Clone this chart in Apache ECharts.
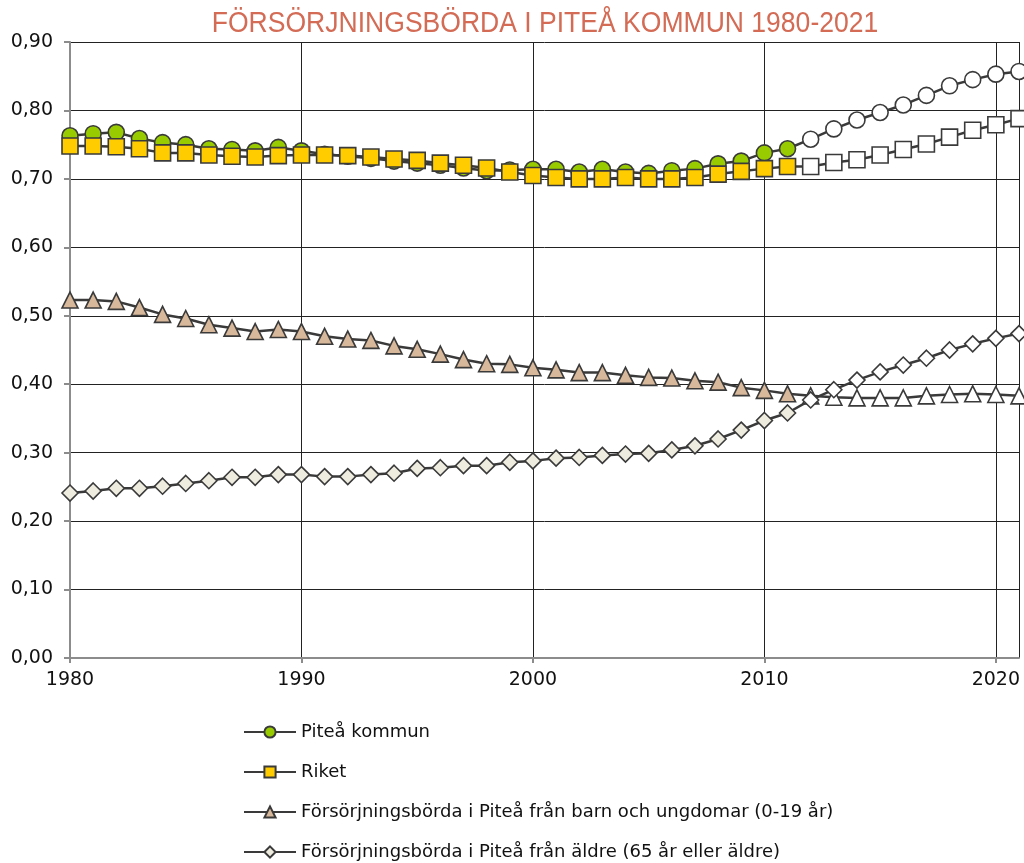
<!DOCTYPE html>
<html>
<head>
<meta charset="utf-8">
<script src="https://cdn.jsdelivr.net/npm/echarts@6/dist/echarts.min.js"></script>
<style>
  html, body { margin: 0; padding: 0; background: #fff; }
  #chart { width: 1024px; height: 863px; }
</style>
</head>
<body>
<div id="chart"></div>
<script>
// år 1980-2021, prognos från 2012
const years = [
  1980, 1981, 1982, 1983, 1984, 1985, 1986, 1987, 1988, 1989,
  1990, 1991, 1992, 1993, 1994, 1995, 1996, 1997, 1998, 1999,
  2000, 2001, 2002, 2003, 2004, 2005, 2006, 2007, 2008, 2009,
  2010, 2011, 2012, 2013, 2014, 2015, 2016, 2017, 2018, 2019,
  2020, 2021
];
const firstForecastYear = 2012;

const pitea = [
  0.763, 0.766, 0.768, 0.759, 0.753, 0.750, 0.744, 0.743, 0.741, 0.746,
  0.741, 0.736, 0.733, 0.730, 0.726, 0.723, 0.720, 0.716, 0.712, 0.713,
  0.714, 0.714, 0.710, 0.714, 0.710, 0.708, 0.712, 0.715, 0.722, 0.726,
  0.738, 0.744, 0.758, 0.773, 0.786, 0.797, 0.808, 0.822, 0.836, 0.845,
  0.853, 0.857
];
const riket = [
  0.748, 0.748, 0.747, 0.744, 0.738, 0.738, 0.735, 0.733, 0.732, 0.734,
  0.735, 0.735, 0.734, 0.732, 0.729, 0.727, 0.723, 0.720, 0.716, 0.710,
  0.705, 0.702, 0.700, 0.700, 0.702, 0.700, 0.700, 0.702, 0.707, 0.711,
  0.715, 0.718, 0.718, 0.724, 0.728, 0.735, 0.743, 0.751, 0.761, 0.771,
  0.779, 0.788
];
const barnUngdomar = [
  0.523, 0.523, 0.521, 0.512, 0.502, 0.496, 0.487, 0.482, 0.477, 0.480,
  0.477, 0.470, 0.466, 0.464, 0.456, 0.451, 0.444, 0.436, 0.430, 0.429,
  0.424, 0.421, 0.417, 0.417, 0.413, 0.410, 0.409, 0.405, 0.403, 0.395,
  0.391, 0.386, 0.383, 0.381, 0.380, 0.380, 0.380, 0.383, 0.385, 0.386,
  0.385, 0.383
];
const aldre = [
  0.241, 0.244, 0.248, 0.248, 0.251, 0.255, 0.259, 0.264, 0.264, 0.268,
  0.268, 0.265, 0.265, 0.268, 0.270, 0.277, 0.278, 0.281, 0.281, 0.286,
  0.288, 0.292, 0.293, 0.296, 0.298, 0.299, 0.304, 0.310, 0.320, 0.333,
  0.347, 0.358, 0.377, 0.392, 0.406, 0.418, 0.428, 0.438, 0.450, 0.459,
  0.467, 0.474
];

const seriesNames = [
  'Piteå kommun',
  'Riket',
  'Försörjningsbörda i Piteå från barn och ungdomar (0-19 år)',
  'Försörjningsbörda i Piteå från äldre (65 år eller äldre)'
];

const font = '"DejaVu Sans", sans-serif';
const lineColor = '#3a3a3a';

// prognosår ritas med vita markörer
function toPoints(values) {
  return values.map((v, i) => {
    const point = { value: [years[i], v] };
    if (years[i] >= firstForecastYear) {
      point.itemStyle = { color: '#ffffff' };
    }
    return point;
  });
}

function makeSeries(name, values, symbol, size, fill) {
  return {
    name: name,
    type: 'line',
    data: toPoints(values),
    symbol: symbol,
    symbolSize: size,
    showAllSymbol: true,
    lineStyle: { color: lineColor, width: 2.5 },
    itemStyle: { color: fill, borderColor: lineColor, borderWidth: 1.6, opacity: 1 }
  };
}

const chart = echarts.init(document.getElementById('chart'));

chart.setOption({
  animation: false,
  // rubriken är smal i originalet, därför scaleX
  graphic: [
    {
      type: 'text',
      x: 545,
      y: 24,
      scaleX: 0.915,
      style: {
        text: 'FÖRSÖRJNINGSBÖRDA I PITEÅ KOMMUN 1980-2021',
        font: 'normal 29px "Liberation Sans", Arial, sans-serif',
        fill: '#d36b55',
        align: 'center',
        verticalAlign: 'middle'
      }
    }
  ],
  grid: {
    left: 70,
    right: 5,
    top: 42,
    bottom: 205
  },
  legend: {
    orient: 'vertical',
    left: 243,
    top: 723,
    padding: 0,
    itemWidth: 52,
    itemHeight: 14,
    itemGap: 22,
    textStyle: { fontFamily: font, fontSize: 18, color: '#111', lineHeight: 18 },
    data: seriesNames
  },
  xAxis: {
    type: 'value',
    min: 1980,
    max: 2021,
    interval: 10,
    axisLine: { show: true, lineStyle: { color: '#8c8c8c', width: 2 } },
    axisTick: { show: true, length: 5, lineStyle: { color: '#8c8c8c', width: 2 } },
    axisLabel: {
      fontFamily: font,
      fontSize: 19,
      color: '#111',
      margin: 13,
      showMaxLabel: false,
      formatter: v => (v % 10 === 0 ? String(v) : '')
    },
    splitLine: { show: true, lineStyle: { color: '#222', width: 1 } }
  },
  yAxis: {
    type: 'value',
    min: 0,
    max: 0.9,
    interval: 0.1,
    axisLine: { show: true, lineStyle: { color: '#8c8c8c', width: 2 } },
    axisTick: { show: true, length: 6, lineStyle: { color: '#8c8c8c', width: 2 } },
    axisLabel: {
      fontFamily: font,
      fontSize: 19,
      color: '#111',
      margin: 17,
      formatter: v => v.toFixed(2).replace('.', ',')
    },
    splitLine: { show: true, lineStyle: { color: '#222', width: 1 } }
  },
  series: [
    makeSeries(seriesNames[0], pitea, 'circle', 16, '#99cc00'),
    makeSeries(seriesNames[1], riket, 'rect', 16, '#ffcc00'),
    makeSeries(seriesNames[2], barnUngdomar, 'triangle', 16, '#d8b89b'),
    makeSeries(seriesNames[3], aldre, 'diamond', 16, '#eeebdf')
  ]
});

window.addEventListener('resize', () => {
  chart.resize();
});
</script>
</body>
</html>
